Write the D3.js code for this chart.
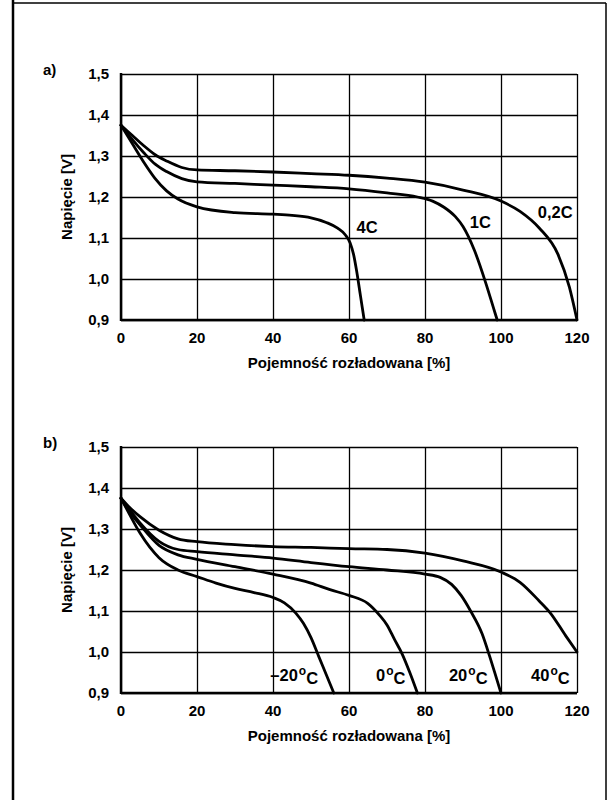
<!DOCTYPE html>
<html>
<head>
<meta charset="utf-8">
<script src="https://cdn.jsdelivr.net/npm/d3@7"></script>
<style>
  html, body { margin: 0; padding: 0; background: #fff; }
  svg { display: block; }
  text { font-family: "Liberation Sans", Arial, sans-serif; font-weight: bold; fill: #000; }
</style>
</head>
<body>
<svg id="chart" width="613" height="800"></svg>
<script>
// data: [capacity %, voltage V]
const xTicks = [0, 20, 40, 60, 80, 100, 120];
const yTicks = [0.9, 1.0, 1.1, 1.2, 1.3, 1.4, 1.5];

// panel a) discharge rate
const rateNames = ["4C", "1C", "0,2C"];
const rate4C = [[0,1.375],[3,1.33],[6,1.285],[9,1.245],[12,1.215],[15,1.195],[20,1.176],[30,1.162],[40,1.158],[45,1.155],[50,1.149],[54,1.138],[57,1.124],[59,1.108],[60.3,1.088],[61.2,1.06],[62,1.02],[63,0.96],[64,0.9]];
const rate1C = [[0,1.375],[3,1.34],[6,1.308],[9,1.28],[12,1.262],[16,1.245],[20,1.237],[30,1.233],[40,1.229],[50,1.225],[60,1.22],[70,1.21],[78,1.2],[82,1.19],[85,1.175],[88,1.152],[90,1.128],[93,1.07],[96,0.99],[98,0.93],[99,0.9]];
const rate02C = [[0,1.375],[3,1.35],[6,1.325],[9,1.303],[12,1.288],[16,1.272],[20,1.266],[30,1.264],[40,1.261],[50,1.257],[60,1.253],[70,1.246],[80,1.236],[90,1.217],[100,1.19],[105,1.165],[110,1.125],[115,1.06],[118,0.98],[120,0.9]];
const rateLabelPos = [[62, 1.127], [91.8, 1.139], [109.7, 1.163]];

// panel b) temperature
const tempNames = ["-20", "0", "20", "40"];
const tempM20 = [[0,1.375],[2,1.34],[5,1.29],[10,1.23],[15,1.2],[20,1.184],[25,1.168],[30,1.155],[35,1.145],[40,1.133],[43,1.12],[46,1.095],[48,1.07],[50,1.035],[52,0.99],[54,0.945],[56,0.9]];
const temp0 = [[0,1.375],[2,1.345],[5,1.31],[10,1.26],[15,1.237],[20,1.226],[30,1.208],[40,1.19],[50,1.168],[55,1.152],[60,1.138],[65,1.118],[68,1.09],[70,1.066],[72,1.03],[74,0.995],[76,0.95],[78,0.9]];
const temp20 = [[0,1.375],[2,1.35],[5,1.315],[10,1.27],[15,1.25],[20,1.245],[30,1.237],[40,1.229],[50,1.218],[60,1.208],[70,1.2],[80,1.19],[84,1.182],[87,1.165],[89.5,1.138],[92,1.10],[95,1.045],[97,0.99],[99,0.93],[100,0.9]];
const temp40 = [[0,1.375],[2,1.355],[5,1.33],[10,1.297],[15,1.276],[20,1.269],[30,1.262],[40,1.257],[50,1.255],[60,1.252],[70,1.25],[80,1.241],[90,1.222],[100,1.195],[105,1.17],[110,1.125],[113,1.095],[117,1.04],[120,1.0]];
const tempLabelPos = [[39.3, 0.943], [67.1, 0.943], [86.3, 0.943], [107.9, 0.943]];

const svg = d3.select("#chart");

// outer frame
svg.append("line").attr("x1", 13).attr("x2", 13).attr("y1", 0).attr("y2", 800)
    .attr("stroke", "#000").attr("stroke-width", 2.5);
svg.append("line").attr("x1", 13).attr("x2", 606).attr("y1", 3).attr("y2", 3)
    .attr("stroke", "#000").attr("stroke-width", 1.5);
svg.append("line").attr("x1", 606).attr("x2", 606).attr("y1", 3).attr("y2", 800)
    .attr("stroke", "#000").attr("stroke-width", 1.5);

const fmt = d => d3.format(".1f")(d).replace(".", ",");

function drawPanel(top, tag, series, labels) {
    const left = 121, right = 577, bottom = top + 246;
    const x = d3.scaleLinear().domain([0, 120]).range([left, right]);
    const y = d3.scaleLinear().domain([0.9, 1.5]).range([bottom, top]);
    const g = svg.append("g");

    // grid
    g.append("g").attr("transform", `translate(0,${bottom})`)
        .call(d3.axisBottom(x).tickValues(xTicks).tickSize(-(bottom - top)).tickFormat(""))
        .call(s => s.select(".domain").remove())
        .selectAll("line").attr("stroke", "#000").attr("stroke-width", 1.3);
    g.append("g").attr("transform", `translate(${left},0)`)
        .call(d3.axisLeft(y).tickValues(yTicks).tickSize(-(right - left)).tickFormat(""))
        .call(s => s.select(".domain").remove())
        .selectAll("line").attr("stroke", "#000").attr("stroke-width", 1.3);

    // heavier left and bottom axis lines
    g.append("line").attr("x1", left).attr("x2", left).attr("y1", top - 1).attr("y2", bottom + 1)
        .attr("stroke", "#000").attr("stroke-width", 2.5);
    g.append("line").attr("x1", left).attr("x2", right).attr("y1", bottom).attr("y2", bottom)
        .attr("stroke", "#000").attr("stroke-width", 2.5);

    // tick labels
    g.selectAll(".yl").data(yTicks).join("text")
        .attr("x", left - 12).attr("y", d => y(d))
        .attr("dy", "0.35em").attr("text-anchor", "end")
        .attr("font-size", 15).text(fmt);
    g.selectAll(".xl").data(xTicks).join("text")
        .attr("x", d => x(d)).attr("y", bottom + 18)
        .attr("dy", "0.35em").attr("text-anchor", "middle")
        .attr("font-size", 15).text(d => d);

    // titles
    g.append("text").attr("x", (left + right) / 2).attr("y", bottom + 43)
        .attr("dy", "0.35em").attr("text-anchor", "middle").attr("font-size", 15)
        .text("Pojemność rozładowana [%]");
    g.append("text").attr("transform", `translate(67,${(top + bottom) / 2}) rotate(-90)`)
        .attr("dy", "0.35em").attr("text-anchor", "middle").attr("font-size", 15)
        .text("Napięcie [V]");
    g.append("text").attr("x", 43).attr("y", top - 4).attr("dy", "0.35em")
        .attr("font-size", 15).text(tag);

    // curves
    const line = d3.line().x(d => x(d[0])).y(d => y(d[1])).curve(d3.curveMonotoneX);
    g.selectAll(".curve").data(series).join("path")
        .attr("d", line).attr("fill", "none")
        .attr("stroke", "#000").attr("stroke-width", 2.8)
        .attr("stroke-linejoin", "round").attr("stroke-linecap", "round");

    // curve labels
    labels.forEach(l => {
        const t = g.append("text").attr("x", x(l.pos[0])).attr("y", y(l.pos[1]))
            .attr("dy", "0.35em").attr("font-size", 16.5);
        if (l.deg) {
            t.append("tspan").text(l.name);
            t.append("tspan").attr("dx", 1).attr("dy", "-0.55em").attr("font-size", 12).text("o");
            t.append("tspan").attr("dy", "0.55em").text("C");
        } else {
            t.text(l.name);
        }
    });

    return g;
}

drawPanel(74, "a)", [rate4C, rate1C, rate02C],
    rateNames.map((n, i) => ({ name: n, pos: rateLabelPos[i] })));

drawPanel(447, "b)", [tempM20, temp0, temp20, temp40],
    tempNames.map((n, i) => ({ name: n === "-20" ? "\u201320" : n, pos: tempLabelPos[i], deg: true })));
</script>
</body>
</html>
